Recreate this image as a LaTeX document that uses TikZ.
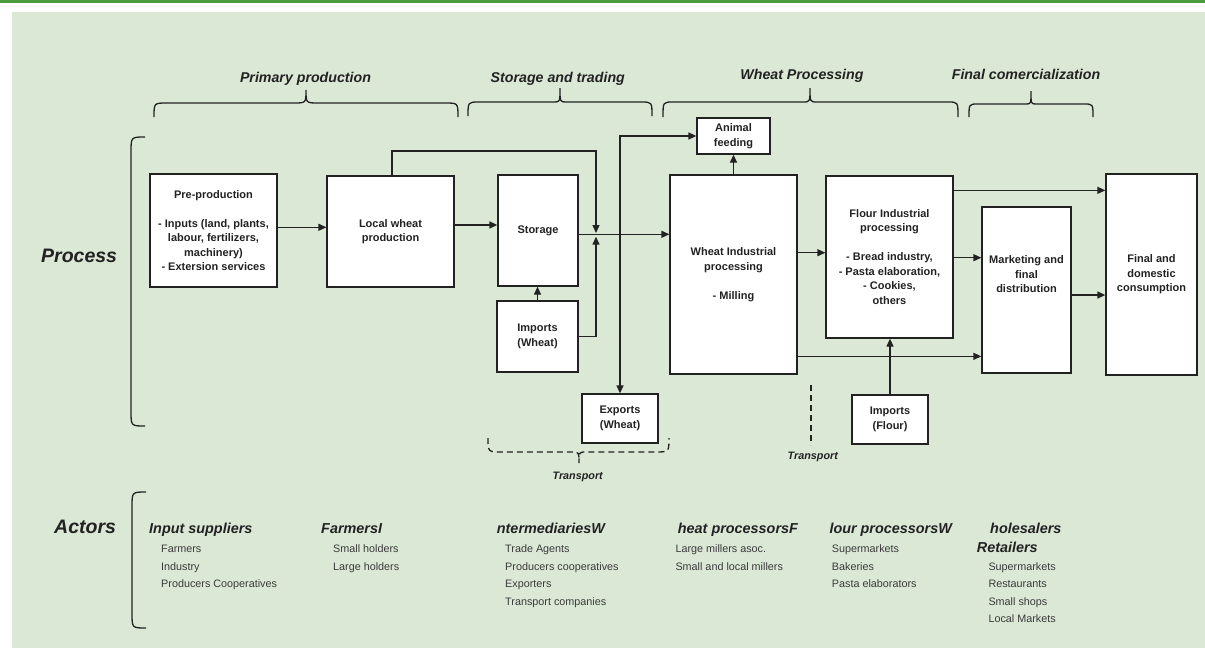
\documentclass[tikz,border=0pt]{standalone}
\usepackage{fontspec}
\setmainfont{Liberation Sans}
\usetikzlibrary{arrows.meta}
\definecolor{bgg}{HTML}{DCE8D6}
\definecolor{topg}{HTML}{4E9A3E}
\definecolor{ink}{HTML}{222222}
\definecolor{itemc}{HTML}{3A3A3A}
\newcommand\phbrace[8]{%
  \draw[brc] (#1,#4) .. controls (#1,#5) .. ({#1+#7},#5) -- ({#2-#8},#5)
    .. controls (#2,#5) .. (#2,#6) .. controls (#2,#5) .. ({#2+#8},#5)
    -- ({#3-#7},#5) .. controls (#3,#5) .. (#3,#4);}
\begin{document}
\begin{tikzpicture}[x=1pt,y=-1pt,
  box/.style={draw=ink,fill=white,line width=1.3pt,inner sep=0pt,align=center,
    font=\fontsize{11}{14.5}\selectfont\bfseries,text=ink},
  boxtext/.style={inner sep=0pt,align=center,font=\fontsize{11}{14.5}\selectfont\bfseries,text=ink},
  arr/.style={draw=ink,line width=1.3pt,-{Triangle[length=8pt,width=7pt]}},
  brc/.style={draw=ink,line width=1.3pt},
  dbrc/.style={draw=ink,line width=1.3pt,dash pattern=on 6pt off 4pt},
  phase/.style={inner sep=0pt,font=\fontsize{14.2}{16}\selectfont\bfseries\itshape,text=ink},
  big/.style={inner sep=0pt,font=\fontsize{19.5}{22}\selectfont\bfseries\itshape,text=ink},
  hd/.style={inner sep=0pt,anchor=base west,font=\fontsize{14.4}{16}\selectfont\bfseries\itshape,text=ink},
  item/.style={inner sep=0pt,anchor=base west,font=\fontsize{10.8}{13}\selectfont,text=itemc},
  tlab/.style={inner sep=0pt,anchor=base,font=\fontsize{10.8}{13}\selectfont\bfseries\itshape,text=ink}]
\useasboundingbox (0,0) rectangle (1205,648);
\fill[white] (0,0) rectangle (1205,648);
\fill[topg] (0,0) rectangle (1205,2.6);
\fill[bgg] (12,12) rectangle (1205,648);

% phase labels and braces
\node[phase,anchor=base] (ph1) at (305.5,82) {Primary production};
\node[phase,anchor=base] (ph2) at (557.8,82) {Storage and trading};
\node[phase,anchor=base] (ph3) at (802,79) {Wheat Processing};
\node[phase,anchor=base] (ph4) at (1026,79.3) {Final comercialization};
\phbrace{154}{306}{458}{117}{103}{90}{13}{12}
\phbrace{468}{560}{652}{116}{102}{88}{11}{6}
\phbrace{663}{810}{958}{117}{102}{88}{10}{7}
\phbrace{969}{1031}{1093}{117}{104}{91}{9}{5}

% left brackets
\node[big,anchor=base west] (proc) at (41,262.7) {Process};
\node[big,anchor=base west] (act) at (54,533.5) {Actors};
\draw[brc] (145,137) .. controls (131,137) .. (131,152) -- (131,411) .. controls (131,426) .. (145,426);
\draw[brc] (146,492) .. controls (132,492) .. (132,507) -- (132,613) .. controls (132,628) .. (146,628);

% boxes
\node[box,minimum width=127pt,minimum height=113pt] (pre) at (213.5,230.5)
  {Pre-production\\[14.5pt]- Inputs (land, plants,\\labour, fertilizers,\\machinery)\\- Extersion services};
\node[box,minimum width=127pt,minimum height=111pt] (local) at (390.5,231.5) {Local wheat\\production};
\node[box,minimum width=80pt,minimum height=111pt] (storage) at (538,230.5) {Storage};
\node[box,minimum width=81pt,minimum height=71pt] (impw) at (537.5,336.5) {Imports\\(Wheat)};
\node[box,minimum width=76pt,minimum height=49pt] (expw) at (620,418.5) {Exports\\(Wheat)};
\node[box,minimum width=73pt,minimum height=36pt] (animal) at (733.5,136) {Animal\\feeding};
\node[box,minimum width=127pt,minimum height=199pt] (wheat) at (733.5,274.5)
  {Wheat Industrial\\processing\\[14.5pt]- Milling};
\node[box,minimum width=127pt,minimum height=162pt] (flour) at (889.5,257)
  {Flour Industrial\\processing\\[14.5pt]- Bread industry,\\- Pasta elaboration,\\- Cookies,\\others};
\node[box,minimum width=76pt,minimum height=49pt] (impf) at (890,419.5) {Imports\\(Flour)};
\node[box,minimum width=89pt,minimum height=166pt] (mkt) at (1026.5,290) {};
\node[boxtext] (mkttext) at (1026.5,274.5) {Marketing and\\final\\distribution};
\node[box,minimum width=91pt,minimum height=201pt] (final) at (1151.5,274.5) {Final and\\domestic\\consumption};

% connectors
\coordinate (jx) at (596,234.3);
\coordinate (ex) at (620,234.3);
\draw[arr] ([yshift=3.2pt]pre.east) -- ([yshift=3.2pt]pre.east -| local.west);
\draw[arr] ([yshift=6.5pt]local.east) -- ([yshift=6.5pt]local.east -| storage.west);
\draw[arr] ([xshift=1.5pt]local.north) |- (596,151) -- ([yshift=1.3pt]jx);
\draw[arr] (impw.east) -| ([yshift=-2.4pt]jx);
\draw[arr] (impw.north) -- (impw.north |- storage.south);
\draw[arr] ([yshift=-3.8pt]storage.east) -- ([yshift=-3.8pt]storage.east -| wheat.west);
\draw[arr] (ex) |- (animal.west);
\draw[arr] (ex) -- (expw.north);
\draw[arr] (wheat.north) -- (animal.south);
\draw[arr] ([yshift=21.8pt]wheat.east) -- ([yshift=21.8pt]wheat.east -| flour.west);
\draw[arr] ([yshift=18.3pt]wheat.south east) -- ([yshift=18.3pt]wheat.south east -| mkt.west);
\draw[arr] (impf.north) -- (impf.north |- flour.south);
\draw[arr] ([yshift=-15pt]flour.north east) -- ([yshift=-15pt]flour.north east -| final.west);
\draw[arr] ([yshift=-0.7pt]flour.east) -- ([yshift=-0.7pt]flour.east -| mkt.west);
\draw[arr] ([yshift=-5pt]mkt.east) -- ([yshift=-5pt]mkt.east -| final.west);

% transport
\draw[dbrc] (488,438) .. controls (488,452) .. (502,452) -- (572,452) .. controls (579,452) .. (579,463)
  .. controls (579,452) .. (586,452) -- (655,452) .. controls (669,452) .. (669,438);
\node[tlab] (tr1) at (577.7,479.5) {Transport};
\draw[dbrc] (811,385) -- (811,445);
\node[tlab] (tr2) at (812.8,459.3) {Transport};

% actors
\node[hd] (a1) at (149,533) {Input suppliers};
\node[item] at (161,552.5) {Farmers};
\node[item] at (161,570) {Industry};
\node[item] at (161,587.5) {Producers Cooperatives};
\node[hd] (a2) at (321,533) {FarmersI};
\node[item] at (333,552.5) {Small holders};
\node[item] at (333,570) {Large holders};
\node[hd] (a3) at (496.7,533) {ntermediariesW};
\node[item] at (505,552.5) {Trade Agents};
\node[item] at (505,570) {Producers cooperatives};
\node[item] at (505,587.5) {Exporters};
\node[item] at (505,605) {Transport companies};
\node[hd] (a4) at (677.7,533) {heat processorsF};
\node[item] at (675.3,552.5) {Large millers asoc.};
\node[item] at (675.3,570) {Small and local millers};
\node[hd] (a5) at (829.3,533) {lour processorsW};
\node[item] at (831.7,552.5) {Supermarkets};
\node[item] at (831.7,570) {Bakeries};
\node[item] at (831.7,587.5) {Pasta elaborators};
\node[hd] (a6) at (990,533) {holesalers};
\node[hd] (a7) at (976.7,552.5) {Retailers};
\node[item] at (988.3,570) {Supermarkets};
\node[item] at (988.3,587.5) {Restaurants};
\node[item] at (988.3,605) {Small shops};
\node[item] at (988.3,622.5) {Local Markets};
\end{tikzpicture}
\end{document}
